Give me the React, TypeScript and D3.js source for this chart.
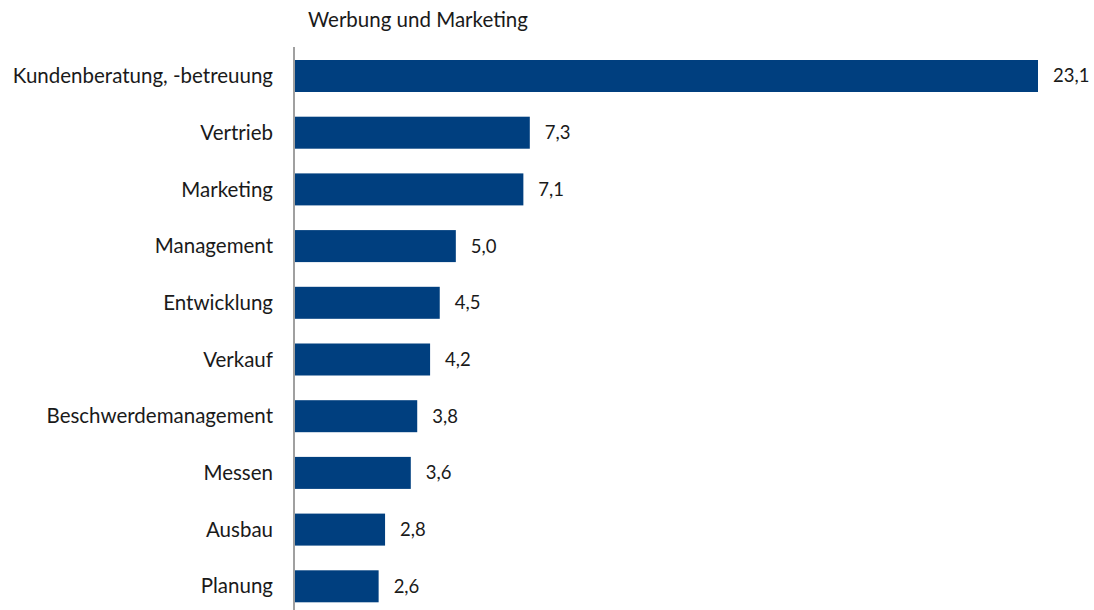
import React from 'react'
import * as d3 from 'd3'

const categories = [
    'Kundenberatung, -betreuung',
    'Vertrieb',
    'Marketing',
    'Management',
    'Entwicklung',
    'Verkauf',
    'Beschwerdemanagement',
    'Messen',
    'Ausbau',
    'Planung',
]
const values = [23.1, 7.3, 7.1, 5.0, 4.5, 4.2, 3.8, 3.6, 2.8, 2.6]
const title = 'Werbung und Marketing'

const width = 1094
const height = 610
const font = 'Lato, "Open Sans", sans-serif'
const barColor = '#003F7F'

const App = () => {
    const xScale = d3.scaleLinear()
        .domain([0, d3.max(values) as number])
        .range([295, 1038])

    const yScale = d3.scaleBand<string>()
        .domain(categories)
        .range([31.65, 630.65])
        .paddingInner(0.4356)
        .paddingOuter(0.5)

    const fmt = (v: number) => d3.format('.1f')(v).replace('.', ',')

    return (
        <svg
            width={width}
            height={height}
            style={{ position: 'absolute', left: 0, top: 0, background: '#fff' }}
            fontFamily={font}
        >
            <text x={308} y={27} fontSize={20.5} fill="#1a1a1a">{title}</text>
            {categories.map((c, i) => {
                const y = yScale(c) as number
                const bw = yScale.bandwidth()
                return (
                    <g key={c}>
                        <rect
                            x={xScale(0)}
                            y={y}
                            width={xScale(values[i]) - xScale(0)}
                            height={bw}
                            fill={barColor}
                        />
                        <text
                            x={273}
                            y={y + bw / 2}
                            dy="0.35em"
                            textAnchor="end"
                            fontSize={20.5}
                            fill="#1a1a1a"
                        >{c}</text>
                        <text
                            x={xScale(values[i]) + 15}
                            y={y + bw / 2}
                            dy="0.35em"
                            fontSize={18.5}
                            fill="#1a1a1a"
                        >{fmt(values[i])}</text>
                    </g>
                )
            })}
            <line x1={294} x2={294} y1={47} y2={height} stroke="#808080" strokeWidth={1.5} />
        </svg>
    )
}

export default App
